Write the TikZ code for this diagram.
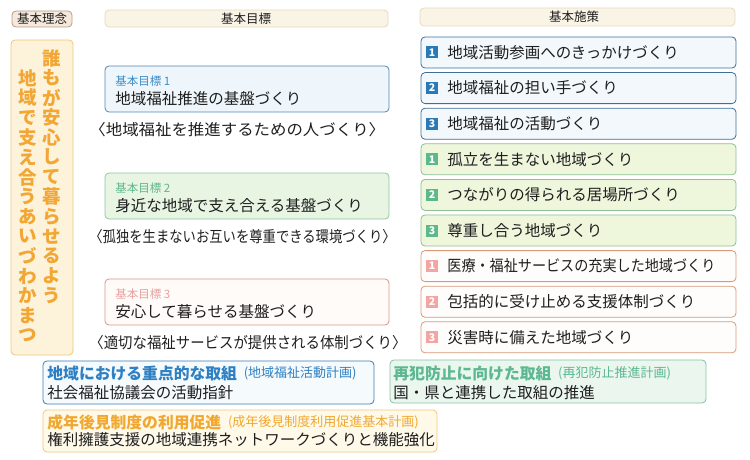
\documentclass[tikz,border=0pt]{standalone}
\usepackage{fontspec}
\setmainfont{Noto Sans CJK JP}
\usepackage{tikz}
\usetikzlibrary{positioning}

\definecolor{ink}{HTML}{1E1E1E}
\definecolor{tabF}{HTML}{F4E9DC}
\definecolor{tabD}{HTML}{B89C82}
\definecolor{barF}{HTML}{FAF4E6}
\definecolor{barD}{HTML}{E8D9BC}
\definecolor{nenF}{HTML}{FDF2DA}
\definecolor{nenD}{HTML}{F0C67C}
\definecolor{nenC}{HTML}{F2A634}
\definecolor{g1F}{HTML}{EEF6FB}
\definecolor{g1D}{HTML}{5487B0}
\definecolor{g1L}{HTML}{3A8CC8}
\definecolor{g2F}{HTML}{E8F5E3}
\definecolor{g2D}{HTML}{8CC6A0}
\definecolor{g2L}{HTML}{5DB88A}
\definecolor{g3F}{HTML}{FFFBF8}
\definecolor{g3D}{HTML}{D9957F}
\definecolor{g3L}{HTML}{E8A0A0}
\definecolor{sbF}{HTML}{F3F8FC}
\definecolor{sbD}{HTML}{3F6F99}
\definecolor{sbN}{HTML}{2A7AB8}
\definecolor{sgF}{HTML}{EEF6DC}
\definecolor{sgD}{HTML}{8FBE98}
\definecolor{sgN}{HTML}{5DB88A}
\definecolor{spF}{HTML}{FFFDFB}
\definecolor{spD}{HTML}{D69A78}
\definecolor{spN}{HTML}{F2A5A3}
\definecolor{aF}{HTML}{F5FAFD}
\definecolor{aD}{HTML}{3E7BB0}
\definecolor{aH}{HTML}{2E80C2}
\definecolor{bF}{HTML}{EBF6EF}
\definecolor{bD}{HTML}{80C4A4}
\definecolor{bH}{HTML}{5CB890}
\definecolor{cF}{HTML}{FFF9EA}
\definecolor{cD}{HTML}{F0C878}
\definecolor{cH}{HTML}{F0A830}

\begin{document}
\begin{tikzpicture}[x=1pt,y=-1pt,rounded corners=4,line width=0.8,
  txt/.style={anchor=west,inner sep=0,text=ink,font=\fontsize{15.5}{18}\selectfont},
  lbl/.style={anchor=west,inner sep=0,font=\fontsize{11.5}{14}\selectfont},
  head/.style={inner sep=0,text=ink,font=\fontsize{12.5}{15}\selectfont},
  midasi/.style={anchor=west,inner sep=0,font=\fontsize{15.8}{18}\selectfont\bfseries},
  kakko/.style={inner sep=0,font=\fontsize{13}{15}\selectfont},
  num/.style={inner sep=0,sharp corners,minimum size=12,text=white,font=\fontsize{10.5}{12}\selectfont\bfseries},
  tate/.style={inner sep=0,text=nenC,font=\fontsize{18.5}{18}\selectfont\bfseries}]
  \useasboundingbox (0,0) rectangle (750,460);

  \draw[fill=tabF,draw=tabD] (12,11) rectangle (72,27);
  \node[head] (rinen) at (42,19) {基本理念};
  \draw[fill=barF,draw=barD] (105,10) rectangle (388,27);
  \node[head] (mokuhyo) at (246,18.5) {基本目標};
  \draw[fill=barF,draw=barD] (420,8) rectangle (735,26);
  \node[head] (shisaku) at (574,17) {基本施策};

  \draw[fill=nenF,draw=nenD] (11,40) rectangle (73,355);
  \foreach \c [count=\i from 0] in {誰,も,が,安,心,し,て,暮,ら,せ,る,よ,う}
    \node[tate] (r\i) at (52,58+19.8*\i) {\c};
  \foreach \c [count=\i from 0] in {地,域,で,支,え,合,う,あ,い,づ,わ,か,ま,つ}
    \node[tate] (l\i) at (28,78+19.8*\i) {\c};

  \foreach \y/\cd/\cf/\cl/\n/\t/\s/\w in {
    66/g1D/g1F/g1L/1/地域福祉推進の基盤づくり/地域福祉を推進するための人づくり/1.06,
    173/g2D/g2F/g2L/2/身近な地域で支え合える基盤づくり/孤独を生まないお互いを尊重できる環境づくり/0.86,
    279/g3D/g3F/g3L/3/安心して暮らせる基盤づくり/適切な福祉サービスが提供される体制づくり/0.93}
  {
    \draw[fill=\cf,draw=\cd] (105,\y) rectangle (389,\y+46);
    \node[lbl,text=\cl] (gl\n) at (115,\y+15) {基本目標 \n};
    \node[txt] (gm\n) at (115,\y+33) {\t};
    \node[txt] (gs\n) at (89,\y+64) {\scalebox{\w}[1]{〈\s〉}};
  }

  \foreach \t/\n/\cd/\cf/\cb/\w [count=\i from 0] in {
    地域活動参画へのきっかけづくり/1/sbD/sbF/sbN/1,
    地域福祉の担い手づくり/2/sbD/sbF/sbN/1,
    地域福祉の活動づくり/3/sbD/sbF/sbN/1,
    孤立を生まない地域づくり/1/sgD/sgF/sgN/1,
    つながりの得られる居場所づくり/2/sgD/sgF/sgN/1,
    尊重し合う地域づくり/3/sgD/sgF/sgN/1,
    医療・福祉サービスの充実した地域づくり/1/spD/spF/spN/0.91,
    包括的に受け止める支援体制づくり/2/spD/spF/spN/1,
    災害時に備えた地域づくり/3/spD/spF/spN/1}
  {
    \draw[fill=\cf,draw=\cd] (421,37+35.6*\i) rectangle (736,68+35.6*\i);
    \node[num,fill=\cb] (n\i) at (432,52.5+35.6*\i) {\n};
    \node[txt] (s\i) at (447,52.5+35.6*\i) {\scalebox{\w}[1]{\t}};
  }

  \draw[fill=aF,draw=aD] (43,361) rectangle (374,404);
  \node[midasi,text=aH] (hA) at (47,373) {地域における重点的な取組};
  \node[kakko,text=aH,right=6pt of hA] (kA) {(地域福祉活動計画)};
  \node[txt] (bA) at (47,393) {社会福祉協議会の活動指針};

  \draw[fill=bF,draw=bD] (390,360) rectangle (706,403);
  \node[midasi,text=bH] (hB) at (393,373) {再犯防止に向けた取組};
  \node[kakko,text=bH,right=6pt of hB] (kB) {(再犯防止推進計画)};
  \node[txt] (bB) at (393,393) {国・県と連携した取組の推進};

  \draw[fill=cF,draw=cD] (43,410) rectangle (437,452);
  \node[midasi,text=cH] (hC) at (47,422) {成年後見制度の利用促進};
  \node[kakko,text=cH,right=6pt of hC] (kC) {(成年後見制度利用促進基本計画)};
  \node[txt] (bC) at (47,440) {権利擁護支援の地域連携ネットワークづくりと機能強化};
\end{tikzpicture}
\end{document}
